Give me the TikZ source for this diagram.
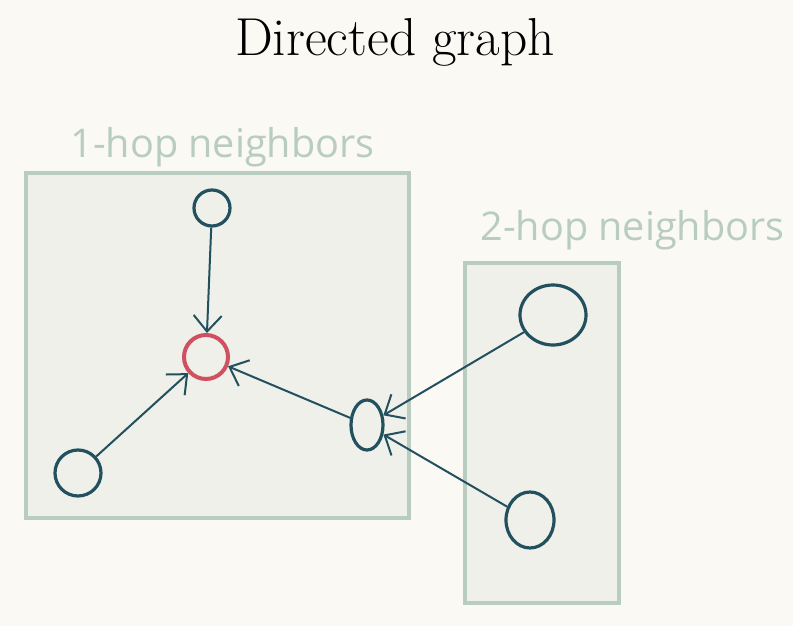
\documentclass[tikz,border=0pt]{standalone}
\usepackage{fontspec}
\newfontfamily\handfont{Open Sans}
\usetikzlibrary{arrows.meta,shapes.geometric}
\definecolor{paper}{HTML}{FBF9F4}
\definecolor{boxfill}{HTML}{EFF0EA}
\definecolor{boxline}{HTML}{B8CCBF}
\definecolor{ink}{HTML}{22505E}
\definecolor{target}{HTML}{CF5060}
\tikzset{
  hopbox/.style={draw=boxline,fill=boxfill,line width=2pt},
  hoplabel/.style={text=boxline,font=\handfont\fontsize{19.8}{24}\selectfont,inner sep=0pt,anchor=base west},
  vertex/.style={draw=ink,line width=1.6pt,circle,inner sep=0pt},
  edge/.style={draw=ink,line width=1pt,-{Straight Barb[length=8pt,width=14pt,line width=1pt]}}
}
\begin{document}
\begin{tikzpicture}[x=0.5pt,y=-0.5pt]
    \fill [paper] (0,0) rectangle (793,626);
    \useasboundingbox (0,0) rectangle (793,626);
    \node (title) at (395,42) {\fontsize{26.7}{30}\selectfont Directed graph};
    % neighbourhood boxes
    \draw [hopbox] (26,173) rectangle (409,518);
    \draw [hopbox] (465,263) rectangle (619,603);
    \node [hoplabel] (lbl1) at (70,158) {1-hop neighbors};
    \node [hoplabel] (lbl2) at (480,241) {2-hop neighbors};
    % vertices
    \node [vertex,minimum size=18pt] (top) at (212,208) {};
    \node [vertex,draw=target,line width=2pt,minimum size=22pt] (center) at (206,357) {};
    \node [vertex,minimum size=23pt] (left) at (78,473) {};
    \node [vertex,ellipse,minimum width=16pt,minimum height=25pt] (mid) at (367,425) {};
    \node [vertex,ellipse,minimum width=33pt,minimum height=30pt] (far1) at (553,315) {};
    \node [vertex,ellipse,minimum width=24pt,minimum height=28pt] (far2) at (530,520) {};
    % edges
    \foreach \a/\b in {top/center,left/center,mid/center,far1/mid,far2/mid} {
        \draw [edge] (\a) -- (\b);
    }
\end{tikzpicture}
\end{document}
